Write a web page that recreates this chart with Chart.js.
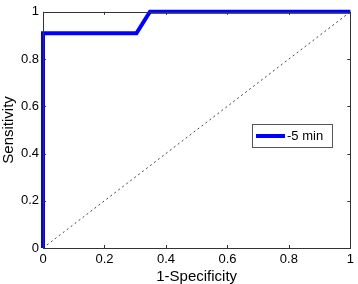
<!DOCTYPE html>
<html><head><meta charset="utf-8">
<script src="https://cdn.jsdelivr.net/npm/chart.js@4/dist/chart.umd.min.js"></script>
<style>html,body{margin:0;padding:0;background:#fff}#wrap{width:358px;height:284px}</style>
</head><body><div id="wrap"><canvas id="c" width="358" height="284"></canvas></div>
<script>
const rocX = [0, 0, 0.304, 0.348, 1];
const rocY = [0, 0.909, 0.909, 1, 1];
const refX = [0, 1];
const refY = [0, 1];
const tickValues = [0, 0.2, 0.4, 0.6, 0.8, 1];
const seriesLabel = '-5 min';
const xTitle = '1-Specificity';
const yTitle = 'Sensitivity';

const FONT = 'Liberation Sans, Arial, sans-serif';

const boxPlugin = {
  id: 'box',
  afterDraw(chart) {
    const ctx = chart.ctx, a = chart.chartArea;
    const xs = chart.scales.x, ys = chart.scales.y;
    ctx.save();
    ctx.strokeStyle = '#333';
    ctx.lineWidth = 1;
    ctx.beginPath();
    tickValues.forEach(v => {
      const px = Math.round(xs.getPixelForValue(v)) + 0.5;
      ctx.moveTo(px, a.bottom); ctx.lineTo(px, a.bottom - 3);
      ctx.moveTo(px, a.top); ctx.lineTo(px, a.top + 3);
      const py = Math.round(ys.getPixelForValue(v)) + 0.5;
      ctx.moveTo(a.left, py); ctx.lineTo(a.left + 3, py);
      ctx.moveTo(a.right, py); ctx.lineTo(a.right - 3, py);
    });
    ctx.stroke();
    ctx.strokeRect(Math.round(a.left) + 0.5, Math.round(a.top) + 0.5, Math.round(a.right - a.left), Math.round(a.bottom - a.top));
    ctx.restore();
    // legend
    const ds = chart.data.datasets[0];
    const lx = 252, ly = 124, lw = 80, lh = 23;
    ctx.save();
    ctx.fillStyle = '#fff';
    ctx.fillRect(lx, ly, lw, lh);
    ctx.strokeStyle = '#555';
    ctx.lineWidth = 1;
    ctx.strokeRect(lx + 0.5, ly + 0.5, lw, lh);
    ctx.strokeStyle = ds.borderColor;
    ctx.lineWidth = 4;
    ctx.beginPath();
    ctx.moveTo(lx + 4, ly + 12); ctx.lineTo(lx + 33, ly + 12);
    ctx.stroke();
    ctx.fillStyle = '#000';
    ctx.font = '13px ' + FONT;
    ctx.textBaseline = 'middle';
    ctx.fillText(ds.label, lx + 35, ly + 12.5);
    ctx.restore();
  }
};

new Chart(document.getElementById('c'), {
  type: 'scatter',
  data: {
    datasets: [
      {
        label: seriesLabel,
        data: rocX.map((x, i) => ({x, y: rocY[i]})),
        showLine: true,
        borderColor: '#0000ff',
        borderWidth: 4,
        pointRadius: 0,
        clip: false,
        order: 0
      },
      {
        label: 'ref',
        data: refX.map((x, i) => ({x, y: refY[i]})),
        showLine: true,
        borderColor: '#444',
        borderWidth: 1,
        borderDash: [2, 3],
        pointRadius: 0,
        order: 1
      }
    ]
  },
  options: {
    responsive: false,
    animation: false,
    devicePixelRatio: 1,
    layout: {padding: {left: 0, right: 3, top: 6, bottom: 0}},
    plugins: {legend: {display: false}, tooltip: {enabled: false}},
    scales: {
      x: {
        type: 'linear', min: 0, max: 1,
        afterFit(s) { s.height = 36; },
        afterBuildTicks(s) { s.ticks = tickValues.map(v => ({value: v})); },
        grid: {display: false, drawTicks: false},
        border: {display: false},
        ticks: {color: '#000', font: {family: FONT, size: 13}, padding: 4, maxRotation: 0,
          callback: v => String(v)},
        title: {display: true, text: xTitle, color: '#000', font: {family: FONT, size: 15}, padding: {top: 0, bottom: -2}}
      },
      y: {
        type: 'linear', min: 0, max: 1,
        afterFit(s) { s.width = 43; },
        afterBuildTicks(s) { s.ticks = tickValues.map(v => ({value: v})); },
        grid: {display: false, drawTicks: false},
        border: {display: false},
        ticks: {color: '#000', font: {family: FONT, size: 13}, padding: 4,
          callback: v => String(v)},
        title: {display: true, text: yTitle, color: '#000', font: {family: FONT, size: 15}, padding: {top: 0, bottom: 0}}
      }
    }
  },
  plugins: [boxPlugin]
});
</script>
</body></html>
